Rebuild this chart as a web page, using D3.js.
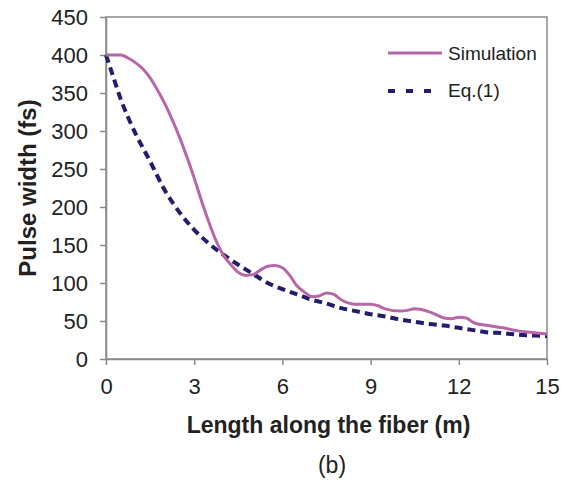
<!DOCTYPE html>
<html>
<head>
<meta charset="utf-8">
<script src="https://cdn.jsdelivr.net/npm/d3@7"></script>
<style>
	body	{ margin: 0; background: #fff; }
	svg	{ display: block; font-family: "Liberation Sans", Arial, sans-serif; }
</style>
</head>
<body>
<div id="plot"></div>
<script>

///////////////////////////////////////////////////////////////////////

// values

let sim_x = [ 0, 0.25, 0.5, 0.75, 1, 1.25, 1.5, 1.75, 2, 2.25, 2.5, 2.75, 3, 3.25, 3.5, 3.75, 4, 4.25, 4.5, 4.75,
	5, 5.25, 5.5, 5.75, 6, 6.25, 6.5, 6.75, 7, 7.25, 7.5, 7.75, 8, 8.5, 9, 9.25, 9.5, 10, 10.25, 10.5,
	11, 11.25, 11.5, 11.75, 12, 12.25, 12.5, 13, 13.5, 14, 14.5, 15 ];
let sim_y = [ 400, 400, 400, 396, 390, 382, 370, 354, 336, 315, 292, 266, 238, 208, 180, 155, 136, 124, 114, 110,
	111, 117, 122, 123, 120, 110, 96, 88, 82, 83, 87, 85, 78, 72, 72, 70, 66, 63, 64, 66,
	62, 58, 54, 53, 55, 54, 48, 44, 41, 37, 35, 33 ];

let eq_x = [ 0, 0.25, 0.5, 0.75, 1, 1.5, 2, 2.5, 3, 3.5, 4, 4.5, 5, 5.5, 6, 6.5, 7, 7.5, 8, 8.5,
	9, 9.5, 10, 10.5, 11, 11.5, 12, 12.5, 13, 13.5, 14, 14.5, 15 ];
let eq_y = [ 400, 371, 342, 318, 297, 260, 222, 193, 170, 152, 137, 124, 112, 100, 92, 85, 78, 73, 67, 63,
	59, 56, 52, 49, 46, 44, 41, 38, 35, 34, 32, 31, 30 ];

let x_ticks = [ 0, 3, 6, 9, 12, 15 ];
let y_ticks = [ 0, 50, 100, 150, 200, 250, 300, 350, 400, 450 ];

let series_names = [ "Simulation", "Eq.(1)" ];

///////////////////////////////////////////////////////////////////////

function zip_points( xs, ys )	{

	let P = [];
	for( let i=0; i< xs.length; i++ )	{
		P.push( { x: xs[ i ], y: ys[ i ] } );
	}
	return P;
}

function draw_chart( plot_div_id )	{

	let width = 570, height = 485;
	let left = 106, right = 547, top = 17, bottom = 359;

	let svg = d3.select( "#" + plot_div_id )
		.append( "svg" )
			.attr( "width", width )
			.attr( "height", height );

	let xs = d3.scaleLinear().domain( [ 0, 15 ] ).range( [ left, right ] );
	let ys = d3.scaleLinear().domain( [ 0, 450 ] ).range( [ bottom, top ] );

	let axis_color = "#8a8a8a";

	// frame

	svg.append( "rect" )
		.attr( "x", left )
		.attr( "y", top )
		.attr( "width", right - left )
		.attr( "height", bottom - top )
		.attr( "fill", "none" )
		.attr( "stroke", axis_color )
		.attr( "stroke-width", 1.5 );

	// axes

	let gx = svg.append( "g" )
		.attr( "transform", "translate(0," + bottom + ")" )
		.call( d3.axisBottom( xs ).tickValues( x_ticks ).tickSize( 6 ).tickPadding( 13 ).tickSizeOuter( 0 ) );

	let gy = svg.append( "g" )
		.attr( "transform", "translate(" + left + ",0)" )
		.call( d3.axisLeft( ys ).tickValues( y_ticks ).tickSize( 6 ).tickPadding( 12 ).tickSizeOuter( 0 ) );

	[ gx, gy ].forEach( g => {
		g.select( ".domain" )
			.attr( "stroke", axis_color )
			.attr( "stroke-width", 1.5 );
		g.selectAll( ".tick line" )
			.attr( "stroke", axis_color )
			.attr( "stroke-width", 1.5 );
		g.selectAll( ".tick text" )
			.attr( "fill", "#222" )
			.style( "font-size", "22px" )
			.style( "font-family", "'Liberation Sans', Arial, sans-serif" );
	} );

	// lines

	let line = d3.line()
		.x( d => xs( d.x ) )
		.y( d => ys( d.y ) )
		.curve( d3.curveMonotoneX );

	svg.append( "path" )
		.datum( zip_points( eq_x, eq_y ) )
		.attr( "d", line )
		.attr( "fill", "none" )
		.attr( "stroke", "#221d6c" )
		.attr( "stroke-width", 4 )
		.attr( "stroke-dasharray", "8,5" );

	svg.append( "path" )
		.datum( zip_points( sim_x, sim_y ) )
		.attr( "d", line )
		.attr( "fill", "none" )
		.attr( "stroke", "#b866a8" )
		.attr( "stroke-width", 3 );

	// legend

	svg.append( "line" )
		.attr( "x1", 388 ).attr( "x2", 442 )
		.attr( "y1", 53 ).attr( "y2", 53 )
		.attr( "stroke", "#b866a8" )
		.attr( "stroke-width", 3 );

	svg.append( "line" )
		.attr( "x1", 388 ).attr( "x2", 442 )
		.attr( "y1", 91 ).attr( "y2", 91 )
		.attr( "stroke", "#221d6c" )
		.attr( "stroke-width", 4 )
		.attr( "stroke-dasharray", "7,11" );

	svg.selectAll( ".legend_text" )
		.data( series_names )
		.join( "text" )
			.attr( "class", "legend_text" )
			.attr( "x", 448 )
			.attr( "y", ( d, i ) => 60 + i * 37 )
			.attr( "fill", "#222" )
			.style( "font-size", "19px" )
			.text( d => d );

	// titles

	svg.append( "text" )
		.attr( "x", ( left + right ) / 2 + 2 )
		.attr( "y", 433 )
		.attr( "text-anchor", "middle" )
		.attr( "fill", "#222" )
		.style( "font-size", "23px" )
		.style( "font-weight", "bold" )
		.text( "Length along the fiber (m)" );

	svg.append( "text" )
		.attr( "transform", "translate(36," + ( ( top + bottom ) / 2 ) + ") rotate(-90)" )
		.attr( "text-anchor", "middle" )
		.attr( "fill", "#222" )
		.style( "font-size", "24px" )
		.style( "font-weight", "bold" )
		.text( "Pulse width (fs)" );

	svg.append( "text" )
		.attr( "x", 332 )
		.attr( "y", 473 )
		.attr( "text-anchor", "middle" )
		.attr( "fill", "#222" )
		.style( "font-size", "23px" )
		.text( "(b)" );
}

draw_chart( "plot" );

</script>
</body>
</html>
